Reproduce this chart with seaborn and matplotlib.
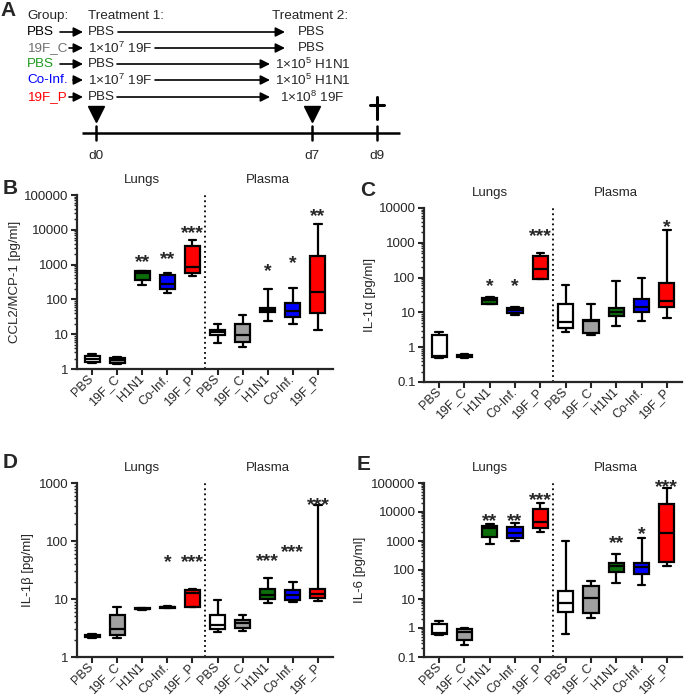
import numpy as np
import pandas as pd
import seaborn as sns
import matplotlib.pyplot as plt
from matplotlib import ticker, transforms

sns.set_style('ticks')
plt.rcParams['font.family'] = ['Liberation Sans', 'DejaVu Sans']
plt.rcParams['mathtext.fontset'] = 'custom'
plt.rcParams['mathtext.rm'] = 'Liberation Sans'
plt.rcParams['mathtext.it'] = 'Liberation Sans:italic'
plt.rcParams['mathtext.bf'] = 'Liberation Sans:bold'

groups = ['PBS', '19F_C', 'H1N1', 'Co-Inf.', '19F_P']
tissues = ['Lungs', 'Plasma']
group_colors = ['white', '#a0a0a0', '#0b6e0b', '#0000ff', '#ff0000']

# five-number summaries per group: [min, q1, median, q3, max]
# order: Lungs x5, Plasma x5
ccl2 = [
    [1.45, 1.6, 2.0, 2.4, 2.7],
    [1.4, 1.5, 1.8, 2.1, 2.2],
    [260, 370, 580, 640, 650],
    [150, 200, 280, 500, 560],
    [470, 560, 830, 3400, 5100],
    [5.5, 9.5, 11.3, 13.2, 20],
    [4.4, 6.1, 9.5, 19, 35],
    [24, 44, 50, 58, 205],
    [20, 32, 47, 77, 215],
    [13, 40, 165, 1800, 15000],
]
il1a = [
    [0.49, 0.53, 0.55, 2.2, 2.8],
    [0.5, 0.53, 0.56, 0.6, 0.62],
    [17, 18, 22, 26, 28],
    [8.4, 9.8, 11.5, 13.6, 14],
    [93, 93, 180, 420, 525],
    [2.8, 3.5, 5.4, 17, 60],
    [2.3, 2.6, 5.5, 6.1, 17],
    [4, 7.8, 10.5, 13.6, 80],
    [5.6, 10.2, 14.6, 24, 100],
    [7, 14.2, 21, 72, 2300],
]
il1b = [
    [2.1, 2.2, 2.28, 2.35, 2.5],
    [2.16, 2.44, 3.1, 5.3, 7.3],
    [6.5, 6.6, 6.8, 7.0, 7.1],
    [6.9, 7.0, 7.2, 7.4, 7.6],
    [7.2, 7.4, 12.5, 14.5, 15],
    [2.7, 3.1, 3.5, 5.4, 9.6],
    [2.8, 3.2, 3.9, 4.3, 5.3],
    [8.4, 10.2, 11.7, 14.7, 23],
    [8.9, 9.6, 11.7, 14.3, 20],
    [9.3, 10.6, 12.2, 14.7, 420],
]
il6 = [
    [0.56, 0.61, 0.65, 1.42, 1.7],
    [0.25, 0.4, 0.73, 0.93, 1.03],
    [770, 1375, 2700, 3300, 3780],
    [1000, 1310, 1840, 3150, 4050],
    [2100, 2770, 4350, 12600, 20000],
    [0.6, 3.6, 7, 19, 1000],
    [2.2, 3.2, 10.5, 28, 43],
    [36, 87, 137, 180, 355],
    [30, 71, 130, 170, 1300],
    [137, 195, 1950, 19000, 67000],
]

# significance marks: (group index, text, height of star centre)
ccl2_stars = [(2, '**', 1800), (3, '**', 2100), (4, '***', 12300),
              (7, '*', 980), (8, '*', 1700), (9, '**', 37000)]
il1a_stars = [(2, '*', 83), (3, '*', 83), (4, '***', 2370), (9, '*', 4300)]
il1b_stars = [(3, '*', 55), (4, '***', 55), (7, '***', 57), (8, '***', 83), (9, '***', 535)]
il6_stars = [(2, '**', 8000), (3, '**', 8000), (4, '***', 42000),
             (7, '**', 1350), (8, '*', 2770), (9, '***', 115000)]

slots = [t + ' ' + g for t in tissues for g in groups]
palette = dict(zip(slots, group_colors * 2))

W, H = 685, 697
fig = plt.figure(figsize=(W / 100, H / 100), dpi=100)


def px_axes(left, top, right, bottom):
    return fig.add_axes([left / W, 1 - bottom / H, (right - left) / W, (bottom - top) / H])


def fmt(v, _):
    return '%g' % v if v < 1 else '%d' % round(v)


def plot_panel(box, summaries, stars, ylim, ylabel, label_x):
    ax = px_axes(*box)
    df = pd.DataFrame([(s, v) for s, five in zip(slots, summaries) for v in five],
                      columns=['slot', 'value'])
    sns.boxplot(data=df, x='slot', y='value', hue='slot', order=slots, hue_order=slots,
                palette=palette, saturation=1, legend=False, width=0.6, whis=(0, 100),
                linecolor='black', linewidth=1.6, fliersize=0, log_scale=True, ax=ax)
    ax.set_ylim(*ylim)
    ax.set_xlim(-0.6, 9.6)
    ax.yaxis.set_major_locator(ticker.LogLocator(base=10, numticks=10))
    ax.yaxis.set_major_formatter(ticker.FuncFormatter(fmt))
    ax.yaxis.set_minor_locator(ticker.LogLocator(base=10, subs=np.arange(2, 10), numticks=20))
    ax.yaxis.set_minor_formatter(ticker.NullFormatter())
    ax.set_xticks(range(10))
    ax.set_xticklabels(groups * 2, rotation=45, ha='right', va='center',
                       rotation_mode='anchor', fontsize=9)
    ax.tick_params(axis='y', labelsize=9.5, width=1.5, length=4, pad=2)
    ax.tick_params(axis='y', which='minor', width=1, length=2.5)
    ax.tick_params(axis='x', width=1.5, length=4, pad=2)
    ax.set_xlabel('')
    ax.set_ylabel(ylabel, fontsize=9.5)
    ax.yaxis.label.set_va('center')
    ax.yaxis.set_label_coords(label_x, 0.5)
    sns.despine(ax=ax)
    for side in ['left', 'bottom']:
        ax.spines[side].set_linewidth(1.6)
    ax.axvline(4.5, color='black', ls=(0, (1, 1.8)), lw=1.3)
    trans = transforms.blended_transform_factory(ax.transData, ax.transAxes)
    for xpos, name in zip([2, 7], tissues):
        ax.annotate(name, (xpos, 1), xycoords=trans, xytext=(0, 11), textcoords='offset points',
                    ha='center', va='center', fontsize=9.5)
    for i, s, y in stars:
        ax.annotate(s, (i, y), xytext=(0, -8), textcoords='offset points',
                    ha='center', va='baseline', fontsize=14, fontweight='bold',
                    annotation_clip=False)
    return ax


plot_panel((77, 195, 333, 369), ccl2, ccl2_stars, (1, 1e5), 'CCL2/MCP-1 [pg/ml]', -0.242)
plot_panel((424, 208, 682, 382), il1a, il1a_stars, (0.1, 1e4), 'IL-1α [pg/ml]', -0.209)
plot_panel((77, 483, 333, 657), il1b, il1b_stars, (1, 1e3), 'IL-1β [pg/ml]', -0.19)
plot_panel((424, 483, 682, 657), il6, il6_stars, (0.1, 1e5), 'IL-6 [pg/ml]', -0.248)

# panel A schematic and panel letters
ax0 = fig.add_axes([0, 0, 1, 1])
ax0.set_xlim(0, W)
ax0.set_ylim(H, 0)
ax0.axis('off')

for letter, (x, y) in zip('ABCDE', [(8, 10), (10, 188), (368, 190), (10, 463), (364, 464)]):
    ax0.text(x, y, letter, fontsize=15, fontweight='bold', ha='center', va='center')

fs = 9.7
arrow = dict(arrowstyle='-|>', color='black', lw=1.2, mutation_scale=14, shrinkA=0, shrinkB=0)
rows_y = [32, 48, 64, 80, 97]
group_names = ['PBS', '19F_C', 'PBS', 'Co-Inf.', '19F_P']
name_colors = ['black', '#707070', '#1f9a1f', '#0000ff', '#ff0000']
treat1 = ['PBS', '1×10$^{7}$ 19F', 'PBS', '1×10$^{7}$ 19F', 'PBS']
treat2 = ['PBS', 'PBS', '1×10$^{5}$ H1N1', '1×10$^{5}$ H1N1', '1×10$^{8}$ 19F']
short_start = [60, 69, 60, 73, 69]
long_start = [118, 155, 117, 155, 117]
long_end = [285, 285, 270, 270, 270]
treat2_x = [298, 298, 275, 275, 280]

ax0.text(27, 16, 'Group:', fontsize=fs, va='center')
ax0.text(88, 16, 'Treatment 1:', fontsize=fs, va='center')
ax0.text(272, 16, 'Treatment 2:', fontsize=fs, va='center')
for i, y in enumerate(rows_y):
    ax0.text(27, y, group_names[i], color=name_colors[i], fontsize=fs, va='center')
    ax0.annotate('', xy=(83, y), xytext=(short_start[i], y), arrowprops=arrow)
    ax0.text(88, y, treat1[i], fontsize=fs, va='center')
    ax0.annotate('', xy=(long_end[i], y), xytext=(long_start[i], y), arrowprops=arrow)
    ax0.text(treat2_x[i], y, treat2[i], fontsize=fs, va='center')

ax0.plot([82, 400], [133, 133], color='black', lw=1.8, solid_capstyle='butt')
for x, d in zip([96, 312, 377], ['d0', 'd7', 'd9']):
    ax0.plot([x, x], [126, 140], color='black', lw=1.8)
    ax0.text(x, 156, d, fontsize=fs, ha='center', va='center')
ax0.plot([96, 312], [114, 114], 'v', color='black', markersize=12, ls='none')
ax0.plot([377, 377], [97, 119], color='black', lw=2.2)
ax0.plot([370, 384], [105, 105], color='black', lw=2.2)

fig.savefig('out.png', dpi=100)
